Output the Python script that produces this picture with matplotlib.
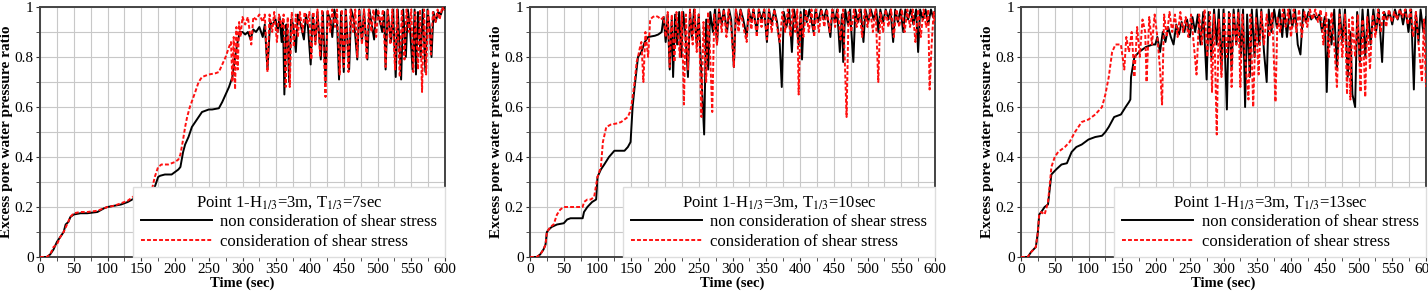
import numpy as np
import matplotlib
matplotlib.use("Agg")
import matplotlib.pyplot as plt
from matplotlib.ticker import MultipleLocator, FuncFormatter

plt.rcParams['font.family'] = ['Liberation Serif', 'DejaVu Serif']
plt.rcParams['mathtext.fontset'] = 'stix'

# ---- panel 1: T1/3 = 7 sec ----
t1_black = [0, 10, 15, 20, 25, 30, 35, 38, 42, 45, 50, 60, 70, 85, 95, 100, 110, 120, 130, 140, 150, 160, 165, 170,
            175, 178, 185, 195, 200, 205, 208, 212, 215, 220, 225, 230, 235, 240, 250, 255, 265, 270, 275, 280, 285,
            288, 292, 296,
            300, 304, 308, 312, 316, 320, 325, 330, 333, 337, 341, 345, 349, 352, 355, 358, 360, 362, 365, 367, 369,
            372, 375, 379, 382, 386, 391, 394, 397, 401, 404, 408, 411, 416, 419, 423, 426, 430, 433, 436, 440, 443,
            446, 450, 453, 458, 461, 465, 470, 473, 477, 480, 485, 488, 495, 498, 503, 507, 510, 512, 515, 520, 523,
            527, 530, 535, 538, 542, 545, 548, 552, 555, 557, 560, 564, 567, 571, 574, 577, 580, 583, 586, 590, 594,
            597, 600]
v1_black = [0, 0, 0.01, 0.03, 0.06, 0.08, 0.1, 0.13, 0.14, 0.16, 0.17, 0.175, 0.175, 0.18, 0.195, 0.2, 0.205, 0.21,
            0.22, 0.235, 0.235, 0.235, 0.24, 0.28, 0.32, 0.325, 0.33, 0.33, 0.34, 0.35, 0.36, 0.42, 0.45, 0.48, 0.52,
            0.54, 0.56, 0.58, 0.59, 0.59, 0.595, 0.62, 0.65, 0.68, 0.72, 0.78, 0.85, 0.9,
            0.9, 0.89, 0.9, 0.87, 0.91, 0.9, 0.92, 0.88, 0.93, 0.75, 0.94, 0.93, 0.95, 0.9, 0.96, 0.86, 0.95, 0.65,
            0.93, 0.88, 0.7, 0.95, 0.93, 0.82, 0.97, 0.93, 0.87, 0.97, 0.92, 0.77, 0.97, 0.86, 0.98, 0.79, 0.98, 0.7,
            0.98, 0.95, 0.88, 0.99, 0.94, 0.71, 0.98, 0.74, 0.99, 0.75, 0.99, 0.95, 0.79, 0.99, 0.86, 0.99, 0.79,
            0.99, 0.87, 0.99, 0.95, 0.9, 0.98, 0.75, 0.99, 0.86, 0.99, 0.72, 0.99, 0.71, 0.99, 0.8, 0.99, 0.92, 0.75,
            0.99, 0.73, 0.98, 0.8, 0.99, 0.74, 0.99, 0.93, 0.8, 0.98, 0.94, 0.98, 0.97, 1.0, 0.99]
t1_red = [0, 10, 15, 20, 25, 30, 35, 40, 45, 50, 60, 70, 85, 95, 100, 110, 120, 130, 140, 150, 160, 165, 170, 175,
          180, 190, 200, 205, 208, 212, 215, 218, 222, 226, 230, 235, 240, 250, 260, 265, 270, 275, 280, 283,
          285, 287, 289, 291, 293, 295, 297, 300, 304, 308, 313, 316, 320, 325, 330, 333, 337, 340, 344, 347, 351,
          354, 358, 361, 364, 367, 370, 373, 376, 379, 382, 385, 389, 392, 396, 399, 402, 405, 408, 411, 415, 418,
          423, 426, 430, 433, 437, 440, 444, 447, 450, 453, 457, 460, 464, 467, 470, 473, 477, 480, 484, 487, 491,
          494, 498, 501, 505, 508, 512, 515, 519, 522, 526, 529, 533, 536, 540, 543, 547, 550, 553, 556, 560, 563,
          566, 569, 572, 575, 579, 582, 586, 589, 592, 596, 600]
v1_red = [0, 0, 0.01, 0.04, 0.05, 0.08, 0.1, 0.13, 0.16, 0.175, 0.18, 0.18, 0.185, 0.195, 0.2, 0.205, 0.215, 0.225,
          0.245, 0.25, 0.25, 0.26, 0.32, 0.36, 0.37, 0.37, 0.38, 0.39, 0.41, 0.47, 0.52, 0.56, 0.6, 0.63, 0.66, 0.7,
          0.72, 0.73, 0.735, 0.74, 0.77, 0.8, 0.84, 0.86,
          0.7, 0.88, 0.67, 0.92, 0.75, 0.94, 0.88, 0.96, 0.93, 0.96, 0.85, 0.96, 0.95, 0.97, 0.94, 0.97, 0.74, 0.97,
          0.9, 0.98, 0.86, 0.97, 0.92, 0.97, 0.68, 0.96, 0.68, 0.98, 0.84, 0.97, 0.88, 0.98, 0.9, 0.98, 0.93, 0.98,
          0.79, 0.98, 0.85, 0.99, 0.8, 0.99, 0.64, 0.99, 0.9, 0.99, 0.92, 0.99, 0.73, 0.99, 0.76, 0.99, 0.74, 0.99,
          0.9, 0.99, 0.8, 0.99, 0.85, 0.99, 0.79, 0.99, 0.9, 0.99, 0.88, 0.99, 0.93, 0.99, 0.76, 0.99, 0.85, 0.99,
          0.75, 0.99, 0.72, 0.99, 0.79, 0.99, 0.9, 0.99, 0.74, 0.98, 0.75, 0.99, 0.66, 0.99, 0.73, 0.99, 0.81, 0.98,
          0.94, 0.99, 0.95, 1.0, 0.98]

# ---- panel 2: T1/3 = 10 sec ----
t2_black = [0, 10, 15, 20, 23, 25, 28, 32, 40, 50, 55, 60, 70, 78, 80, 85, 92, 98, 100, 105, 110, 117, 125, 130, 140,
            145, 149, 151, 152, 155, 158, 160, 165, 170, 175, 185, 190, 195,
            198, 201, 204, 207, 210, 212, 215, 218, 221, 224, 227, 230, 234, 237, 240, 243, 247, 250, 254, 258, 261,
            264, 267, 271, 274, 277, 280, 284, 287, 292, 295, 298, 302, 305, 309, 312, 316, 321, 324, 328, 331, 336,
            339, 343, 347, 351, 354, 358, 362, 366, 370, 373, 376, 380, 384, 388, 391, 395, 398, 401, 403, 406, 410,
            414, 420, 423, 427, 431, 435, 439, 445, 448, 452, 455, 459, 462, 464, 467, 471, 474, 479, 482, 486, 490,
            494, 497, 501, 505, 509, 513, 516, 519, 523, 527, 531, 534, 538, 541, 545, 549, 553, 556, 560, 564, 568,
            572, 575, 578, 582, 586, 590, 594, 597, 600]
v2_black = [0, 0, 0.01, 0.03, 0.05, 0.1, 0.11, 0.12, 0.13, 0.135, 0.15, 0.155, 0.155, 0.155, 0.18, 0.2, 0.22, 0.23,
            0.32, 0.35, 0.37, 0.4, 0.425, 0.425, 0.425, 0.44, 0.46, 0.55, 0.6, 0.68, 0.75, 0.8, 0.82, 0.86, 0.88,
            0.885, 0.89, 0.9,
            0.96, 0.86, 0.97, 0.75, 0.95, 0.72, 0.97, 0.85, 0.98, 0.8, 0.98, 0.9, 0.72, 0.98, 0.88, 0.99, 0.85, 0.97,
            0.72, 0.49, 0.95, 0.75, 0.98, 0.9, 0.99, 0.85, 0.99, 0.93, 0.99, 0.9, 0.99, 0.95, 0.76, 0.99, 0.93, 0.99,
            0.95, 0.88, 0.99, 0.94, 0.99, 0.9, 0.99, 0.95, 0.99, 0.86, 0.99, 0.93, 0.99, 0.94, 0.85, 0.68, 0.98, 0.92,
            0.99, 0.82, 0.99, 0.93, 0.85, 0.98, 0.79, 0.99, 0.94, 0.99, 0.9, 0.99, 0.94, 0.99, 0.95, 0.99, 0.88, 0.99,
            0.94, 0.99, 0.82, 0.97, 0.78, 0.99, 0.93, 0.99, 0.78, 0.99, 0.94, 0.99, 0.86, 0.99, 0.94, 0.99, 0.95,
            0.99, 0.9, 0.99, 0.94, 0.99, 0.95, 0.99, 0.86, 0.99, 0.94, 0.99, 0.9, 0.99, 0.95, 0.99, 0.93, 0.99, 0.82,
            0.99, 0.95, 0.99, 0.93, 0.99, 0.96, 0.98]
t2_red = [0, 10, 15, 20, 23, 25, 30, 35, 40, 45, 50, 60, 70, 78, 80, 85, 90, 95, 100, 105, 108, 113, 120, 130, 135,
          140, 145, 148, 150, 153, 155, 158, 160, 163, 165,
          168, 171, 175, 178, 182, 186, 190, 194, 198, 201, 204, 207, 210, 214, 217, 222, 225, 228, 231, 234, 237,
          241, 244, 247, 250, 254, 257, 261, 264, 267, 270, 273, 277, 280, 284, 287, 291, 294, 298, 302, 305, 309,
          312, 316, 321, 324, 328, 331, 336, 339, 343, 347, 351, 354, 358, 362, 366, 370, 374, 378, 382, 386, 389,
          393, 396, 398, 401, 405, 409, 413, 417, 421, 424, 428, 432, 436, 440, 444, 448, 452, 456, 460, 464, 469,
          472, 476, 480, 484, 488, 492, 496, 500, 504, 508, 512, 516, 519, 523, 527, 531, 535, 539, 543, 547, 551,
          555, 559, 563, 567, 571, 575, 579, 583, 587, 590, 592, 595, 598, 600]
v2_red = [0, 0, 0.01, 0.03, 0.05, 0.1, 0.12, 0.13, 0.17, 0.19, 0.2, 0.2, 0.2, 0.2, 0.22, 0.23, 0.23, 0.24, 0.32,
          0.36, 0.46, 0.52, 0.53, 0.535, 0.54, 0.55, 0.56, 0.58, 0.6, 0.66, 0.7, 0.78, 0.8, 0.84, 0.86,
          0.7, 0.9, 0.8, 0.95, 0.96, 0.965, 0.96, 0.95, 0.96, 0.88, 0.98, 0.76, 0.97, 0.78, 0.98, 0.8, 0.98, 0.61,
          0.97, 0.75, 0.99, 0.85, 0.99, 0.82, 0.97, 0.56, 0.94, 0.7, 0.98, 0.8, 0.58, 0.97, 0.85, 0.99, 0.9, 0.99,
          0.88, 0.99, 0.92, 0.76, 0.99, 0.9, 0.99, 0.92, 0.86, 0.99, 0.91, 0.99, 0.88, 0.99, 0.92, 0.99, 0.87, 0.99,
          0.9, 0.99, 0.92, 0.86, 0.98, 0.9, 0.99, 0.88, 0.99, 0.9, 0.99, 0.65, 0.97, 0.88, 0.99, 0.9, 0.99, 0.88,
          0.99, 0.9, 0.99, 0.92, 0.99, 0.9, 0.99, 0.92, 0.99, 0.87, 0.99, 0.56, 0.98, 0.9, 0.99, 0.92, 0.99, 0.88,
          0.99, 0.92, 0.99, 0.9, 0.99, 0.7, 0.98, 0.9, 0.99, 0.92, 0.99, 0.88, 0.99, 0.92, 0.99, 0.9, 0.99, 0.92,
          0.99, 0.86, 0.99, 0.88, 0.99, 0.92, 0.99, 0.67, 0.85, 0.98, 0.93]

# ---- panel 3: T1/3 = 13 sec ----
t3_black = [0, 10, 15, 22, 25, 27, 30, 35, 40, 43, 45, 52, 60, 68, 75, 82, 90, 100, 110, 120, 125, 130, 138, 148, 155,
            160, 162, 163, 168, 175, 185, 195,
            199, 202, 206, 210, 214, 218, 222, 226, 230, 234, 238, 242, 246, 250, 254, 258, 262, 266, 270, 275, 278,
            282, 286, 290, 293, 297, 300, 305, 308, 312, 315, 319, 322, 326, 329, 332, 335, 339, 342, 346, 349, 353,
            356, 360, 364, 367, 371, 375, 379, 383, 387, 390, 394, 398, 402, 406, 410, 414, 418, 422, 426, 430, 434,
            438, 442, 446, 450, 453, 456, 460, 464, 468, 472, 476, 480, 484, 488, 491, 495, 498, 502, 506, 510, 514,
            518, 522, 526, 530, 535, 538, 542, 546, 550, 554, 558, 562, 566, 570, 574, 578, 582, 585, 589, 592, 596,
            600]
v3_black = [0, 0, 0.02, 0.04, 0.1, 0.17, 0.18, 0.2, 0.21, 0.28, 0.33, 0.35, 0.37, 0.375, 0.42, 0.44, 0.45, 0.47, 0.48,
            0.485, 0.5, 0.52, 0.56, 0.57, 0.6, 0.62, 0.63, 0.72, 0.8, 0.82, 0.84, 0.85,
            0.85, 0.88, 0.82, 0.9, 0.86, 0.92, 0.88, 0.85, 0.93, 0.89, 0.94, 0.9, 0.95, 0.88, 0.96, 0.9, 0.97, 0.85,
            0.98, 0.71, 0.98, 0.8, 0.99, 0.85, 0.99, 0.75, 0.99, 0.59, 0.98, 0.75, 0.99, 0.85, 0.99, 0.8, 0.99, 0.6,
            0.97, 0.72, 0.99, 0.8, 0.99, 0.85, 0.99, 0.82, 0.7, 0.99, 0.9, 0.99, 0.92, 0.99, 0.88, 0.99, 0.88, 0.99,
            0.92, 0.99, 0.85, 0.81, 0.99, 0.94, 0.98, 0.95, 0.97, 0.95, 0.97, 0.9, 0.96, 0.66, 0.95, 0.85, 0.99,
            0.75, 0.99, 0.86, 0.99, 0.72, 0.9, 0.65, 0.6, 0.98, 0.78, 0.99, 0.8, 0.99, 0.85, 0.99, 0.9, 0.99, 0.78,
            0.98, 0.95, 0.98, 0.93, 0.99, 0.95, 0.99, 0.93, 0.99, 0.9, 0.99, 0.67, 0.98, 0.86, 0.99, 0.9, 0.96]
t3_red = [0, 10, 15, 22, 25, 27, 30, 35, 40, 43, 45, 50, 55, 65, 72, 80, 90, 100, 110, 120, 125, 130, 135, 140, 148,
          153, 156, 160, 164, 168, 172, 176, 180, 184, 186, 190, 194, 198, 202, 206, 209, 212, 216, 220, 224, 228,
          232, 236, 240, 244, 248, 252, 256, 260, 264, 268, 272, 276, 280, 283, 286, 290, 293, 297, 301, 305, 309,
          312, 315, 319, 322, 325, 328, 332, 337, 340, 344, 348, 352, 356, 360, 364, 368, 372, 377, 380, 384, 388,
          392, 396, 400, 404, 408, 412, 416, 420, 424, 428, 432, 436, 440, 444, 448, 452, 456, 460, 464, 468, 472,
          476, 480, 483, 486, 488, 491, 495, 499, 503, 506, 510, 513, 517, 521, 525, 529, 533, 537, 541, 545, 549,
          553, 557, 561, 565, 569, 573, 577, 581, 585, 589, 594, 597, 600]
v3_red = [0, 0, 0.02, 0.04, 0.1, 0.17, 0.18, 0.17, 0.22, 0.3, 0.36, 0.4, 0.42, 0.44, 0.46, 0.5, 0.54, 0.55, 0.57, 0.6,
          0.65, 0.72, 0.82, 0.85, 0.85,
          0.75, 0.88, 0.82, 0.9, 0.72, 0.92, 0.8, 0.95, 0.9, 0.7, 0.96, 0.85, 0.97, 0.88, 0.75, 0.61, 0.97, 0.88,
          0.98, 0.9, 0.97, 0.88, 0.98, 0.9, 0.96, 0.88, 0.97, 0.85, 0.73, 0.97, 0.85, 0.99, 0.8, 0.98, 0.66, 0.97,
          0.49, 0.95, 0.72, 0.98, 0.8, 0.98, 0.68, 0.97, 0.85, 0.98, 0.68, 0.97, 0.8, 0.63, 0.97, 0.6, 0.96, 0.73,
          0.98, 0.85, 0.97, 0.88, 0.98, 0.62, 0.96, 0.9, 0.99, 0.92, 0.99, 0.88, 0.99, 0.9, 0.99, 0.88, 0.98, 0.92,
          0.99, 0.95, 0.99, 0.94, 0.99, 0.85, 0.98, 0.8, 0.98, 0.85, 0.68, 0.97, 0.8, 0.97, 0.65, 0.95, 0.63, 0.96,
          0.8, 0.97, 0.66, 0.95, 0.64, 0.96, 0.75, 0.97, 0.88, 0.99, 0.9, 0.98, 0.92, 0.99, 0.94, 0.98, 0.95, 0.99,
          0.96, 0.99, 0.93, 0.99, 0.88, 0.98, 0.85, 0.7, 0.95, 0.68]

legend_titles = ["Point 1-H$_{1/3}$=3m, T$_{1/3}$=7sec",
                 "Point 1-H$_{1/3}$=3m, T$_{1/3}$=10sec",
                 "Point 1-H$_{1/3}$=3m, T$_{1/3}$=13sec"]
series_labels = ["non consideration of shear stress", "consideration of shear stress"]

panels = [(t1_black, v1_black, t1_red, v1_red),
          (t2_black, v2_black, t2_red, v2_red),
          (t3_black, v3_black, t3_red, v3_red)]

fig = plt.figure(figsize=(14.28, 2.91), dpi=100)
lefts = [40 / 1428, 530 / 1428, 1021 / 1428]
W, H = 1428.0, 291.0

for i, (tb, vb, tr, vr) in enumerate(panels):
    ax = fig.add_axes([lefts[i], 34 / H, 405 / W, 250 / H])
    ax.plot(tb, vb, color='black', lw=1.4, label=series_labels[0], zorder=3)
    ax.plot(tr, vr, color='#ff1010', lw=1.4, ls=(0, (2.0, 1.1)), label=series_labels[1], zorder=4)
    ax.set_xlim(0, 600)
    ax.set_ylim(0, 1)
    ax.xaxis.set_major_locator(MultipleLocator(50))
    ax.xaxis.set_minor_locator(MultipleLocator(25))
    ax.yaxis.set_major_locator(MultipleLocator(0.2))
    ax.yaxis.set_minor_locator(MultipleLocator(0.1))
    ax.yaxis.set_major_formatter(FuncFormatter(lambda y, pos: '%g' % round(y, 2)))
    ax.grid(True, which='both', color='#c8c8c8', lw=0.8)
    ax.set_axisbelow(True)
    ax.tick_params(which='both', direction='out', labelsize=11, length=3, pad=1.5, color='#333333')
    for s in ax.spines.values():
        s.set_color('#444444')
        s.set_linewidth(1.4)
    ax.set_xlabel('Time (sec)', fontsize=10.5, fontweight='bold', labelpad=0)
    ax.set_ylabel('Excess pore water pressure ratio', fontsize=11, fontweight='bold', labelpad=1)
    leg = ax.legend(loc='lower right', title=legend_titles[i], fontsize=12, title_fontsize=12,
                    handlelength=4.3, borderaxespad=0, fancybox=False, framealpha=1,
                    edgecolor='#dddddd', borderpad=0.45, labelspacing=0.2, handletextpad=0.5)
    leg.set_zorder(10)

fig.savefig('out.png', dpi=100)
